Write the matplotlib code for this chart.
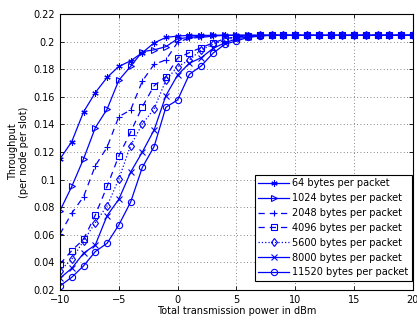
import matplotlib
matplotlib.use("Agg")
import matplotlib.pyplot as plt
import numpy as np

power_dbm = list(range(-10, 21))

tp_64 = [0.115, 0.1275, 0.149, 0.163, 0.174, 0.182, 0.186, 0.192, 0.199, 0.203, 0.204,
         0.2045, 0.2045, 0.2045, 0.2045, 0.2045, 0.2045, 0.2045, 0.2045, 0.2045, 0.2045,
         0.2045, 0.2045, 0.2045, 0.2045, 0.2045, 0.2045, 0.2045, 0.2045, 0.2045, 0.2045]
tp_1024 = [0.0775, 0.095, 0.115, 0.1376, 0.151, 0.172, 0.182, 0.1927, 0.194, 0.1963, 0.202,
           0.203, 0.204, 0.2045, 0.2045, 0.2045, 0.2045, 0.2045, 0.2045, 0.2045, 0.2045,
           0.2045, 0.2045, 0.2045, 0.2045, 0.2045, 0.2045, 0.2045, 0.2045, 0.2045, 0.2045]
tp_2048 = [0.0606, 0.0756, 0.0876, 0.11, 0.1234, 0.1456, 0.1504, 0.1714, 0.1835, 0.1867, 0.1995,
           0.2025, 0.203, 0.204, 0.2045, 0.2045, 0.2045, 0.2045, 0.2045, 0.2045, 0.2045,
           0.2045, 0.2045, 0.2045, 0.2045, 0.2045, 0.2045, 0.2045, 0.2045, 0.2045, 0.2045]
tp_4096 = [0.0388, 0.0485, 0.0567, 0.0743, 0.095, 0.1172, 0.1343, 0.1528, 0.168, 0.1746, 0.188,
           0.192, 0.1956, 0.199, 0.202, 0.2035, 0.204, 0.2045, 0.2045, 0.2045, 0.2045,
           0.2045, 0.2045, 0.2045, 0.2045, 0.2045, 0.2045, 0.2045, 0.2045, 0.2045, 0.2045]
tp_5600 = [0.034, 0.0422, 0.0555, 0.0688, 0.0809, 0.1004, 0.1246, 0.1403, 0.1512, 0.172, 0.1818,
           0.1867, 0.194, 0.198, 0.201, 0.203, 0.204, 0.2045, 0.2045, 0.2045, 0.2045,
           0.2045, 0.2045, 0.2045, 0.2045, 0.2045, 0.2045, 0.2045, 0.2045, 0.2045, 0.2045]
tp_8000 = [0.0285, 0.0357, 0.0466, 0.0526, 0.0738, 0.0857, 0.1053, 0.12, 0.1359, 0.1608, 0.1758,
           0.1843, 0.1883, 0.195, 0.199, 0.202, 0.2035, 0.2045, 0.2045, 0.2045, 0.2045,
           0.2045, 0.2045, 0.2045, 0.2045, 0.2045, 0.2045, 0.2045, 0.2045, 0.2045, 0.2045]
tp_11520 = [0.0229, 0.0292, 0.0374, 0.0478, 0.0538, 0.0671, 0.0836, 0.1089, 0.1239, 0.1524, 0.1577,
            0.1763, 0.1823, 0.1915, 0.198, 0.2005, 0.203, 0.204, 0.2045, 0.2045, 0.2045,
            0.2045, 0.2045, 0.2045, 0.2045, 0.2045, 0.2045, 0.2045, 0.2045, 0.2045, 0.2045]

labels = ["64 bytes per packet", "1024 bytes per packet", "2048 bytes per packet",
          "4096 bytes per packet", "5600 bytes per packet", "8000 bytes per packet",
          "11520 bytes per packet"]
series = [tp_64, tp_1024, tp_2048, tp_4096, tp_5600, tp_8000, tp_11520]
markers = [(6, 2, 0), '>', '+', 's', 'd', 'x', 'o']
styles = ['-', '-', (0, (5, 4)), (0, (5, 4)), ':', '-', '-']

fig = plt.figure(figsize=(4.17, 3.25), dpi=100)
ax = fig.add_axes([0.144, 0.108, 0.846, 0.849])
blue = '#0000ff'
for y, lab, m, ls in zip(series, labels, markers, styles):
    ax.plot(power_dbm, y, linestyle=ls, marker=m, color=blue, markersize=4.5,
            markerfacecolor='none', markeredgecolor=blue, linewidth=0.9,
            markeredgewidth=0.8, label=lab)

ax.set_xlim(-10, 20)
ax.set_ylim(0.02, 0.22)
ax.set_xticks([-10, -5, 0, 5, 10, 15, 20])
ax.set_yticks(np.arange(0.02, 0.2201, 0.02))
ax.set_yticklabels(["0.02", "0.04", "0.06", "0.08", "0.1", "0.12", "0.14", "0.16",
                    "0.18", "0.2", "0.22"])
ax.tick_params(direction='in', top=True, right=True, labelsize=7, length=3, width=0.6)
ax.grid(True, linestyle=(0, (1, 3)), color='#606060', linewidth=0.6)
for s in ax.spines.values():
    s.set_linewidth(0.8)
ax.set_xlabel("Total transmission power in dBm", fontsize=7, labelpad=1)
ax.set_ylabel("Throughput\n(per node per slot)", fontsize=7, labelpad=3)

leg = ax.legend(loc='lower right', bbox_to_anchor=(0.997, 0.033), fontsize=7,
                frameon=True, fancybox=False, edgecolor='black', framealpha=1,
                borderaxespad=0, handlelength=3.2, labelspacing=0.5, borderpad=0.35,
                handletextpad=0.3)
leg.get_frame().set_linewidth(0.8)

fig.savefig("out.png", dpi=100)
